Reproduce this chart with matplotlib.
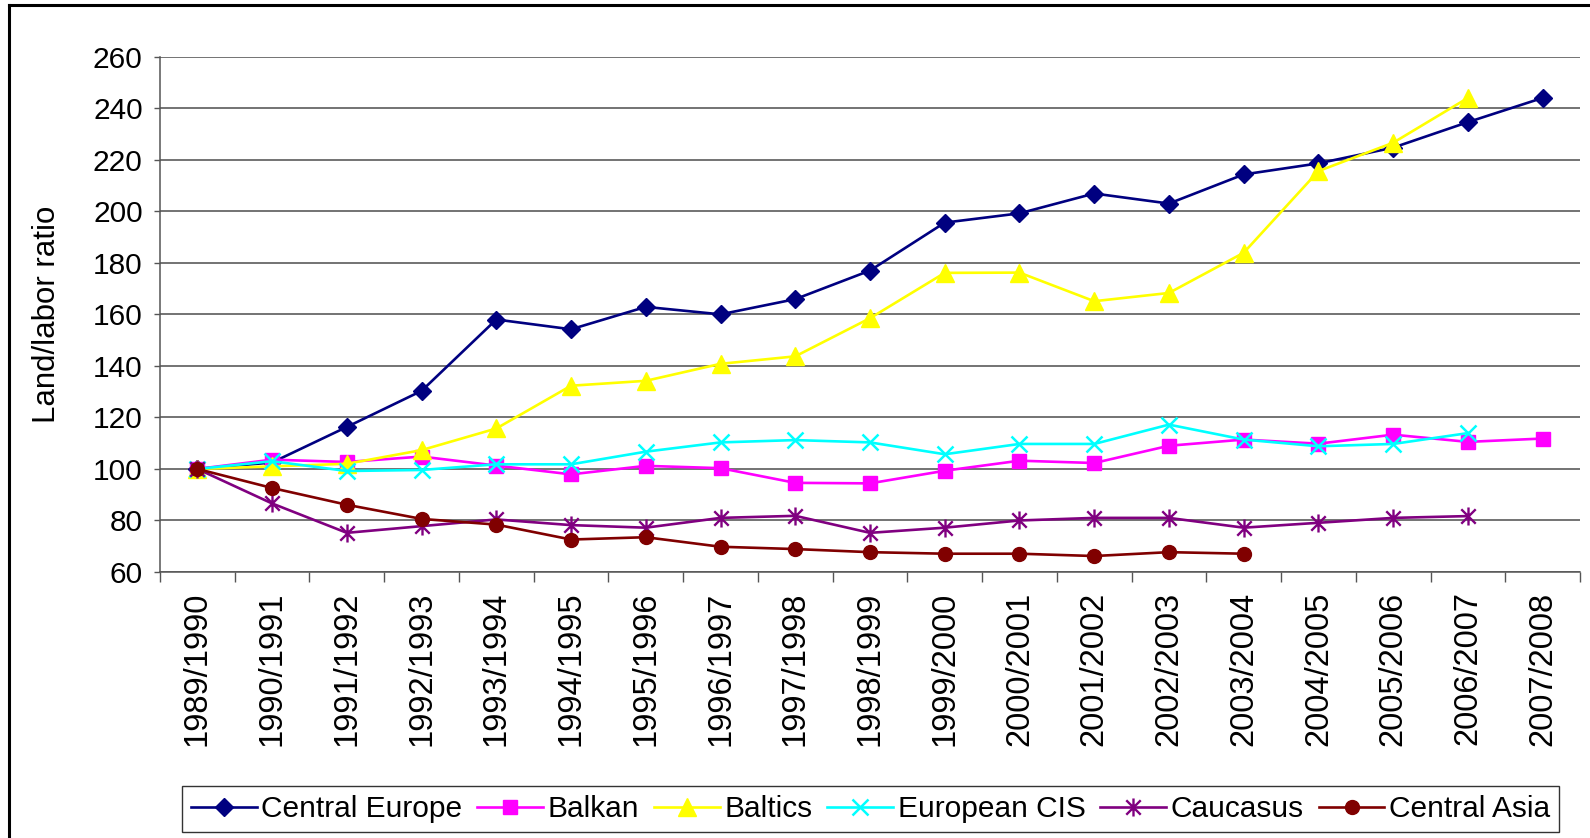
import numpy as np
import matplotlib
matplotlib.use("Agg")
import matplotlib.pyplot as plt
from matplotlib.path import Path
from matplotlib.lines import Line2D

plt.rcParams['font.family'] = ['Liberation Sans', 'DejaVu Sans']

seasons = ["1989/1990", "1990/1991", "1991/1992", "1992/1993", "1993/1994",
           "1994/1995", "1995/1996", "1996/1997", "1997/1998", "1998/1999",
           "1999/2000", "2000/2001", "2001/2002", "2002/2003", "2003/2004",
           "2004/2005", "2005/2006", "2006/2007", "2007/2008"]

nan = np.nan
central_europe = [100, 102.5, 116.3, 130.3, 158.0, 154.2, 162.9, 160.0, 165.9, 177.0,
                  195.6, 199.2, 206.9, 203.0, 214.3, 218.6, 224.7, 234.6, 244.0]
balkan = [100, 103.6, 102.7, 104.8, 101.3, 97.9, 101.2, 100.3, 94.6, 94.4,
          99.3, 103.2, 102.3, 109.0, 111.4, 109.8, 113.3, 110.5, 111.8]
baltics = [100, 101.0, 102.0, 107.3, 115.7, 132.3, 134.2, 140.8, 143.7, 158.5,
           176.1, 176.2, 165.1, 168.3, 183.9, 215.6, 226.6, 244.0, nan]
european_cis = [100, 103.0, 99.2, 99.6, 101.8, 101.8, 106.7, 110.3, 111.2, 110.3,
                105.7, 109.7, 109.7, 117.2, 111.4, 108.8, 109.7, 113.9, nan]
caucasus = [100, 86.6, 75.2, 77.8, 80.4, 78.2, 77.2, 81.0, 81.8, 75.2,
            77.2, 80.0, 81.0, 81.0, 77.2, 79.1, 81.0, 81.7, nan]
central_asia = [100, 92.6, 86.1, 80.6, 78.4, 72.6, 73.5, 69.8, 68.9, 67.7,
                67.1, 67.1, 66.2, 67.7, 67.1, nan, nan, nan, nan]

y_ticks = [60, 80, 100, 120, 140, 160, 180, 200, 220, 240, 260]

# asterisk marker: an X crossed by a vertical stroke
M, L = Path.MOVETO, Path.LINETO
star = Path([(-1, -1), (1, 1), (-1, 1), (1, -1), (0, -1.25), (0, 1.25)],
            [M, L, M, L, M, L])

series = [
    ("Central Europe", central_europe, "#000080", "D", 9.5, {}),
    ("Balkan", balkan, "#FF00FF", "s", 9.5, {}),
    ("Baltics", baltics, "#FFFF00", "^", 13, {}),
    ("European CIS", european_cis, "#00FFFF", "x", 12, {"markeredgewidth": 1.8}),
    ("Caucasus", caucasus, "#800080", star, 13, {"markeredgewidth": 1.7}),
    ("Central Asia", central_asia, "#800000", "o", 10, {}),
]

W, H = 1590, 838
fig = plt.figure(figsize=(W / 100, H / 100), dpi=100)
ax = fig.add_axes([160 / W, 1 - 572 / H, (1580 - 160) / W, (572 - 56.7) / H])

x = np.arange(len(seasons))
handles = []
for name, vals, color, marker, ms, extra in series:
    h, = ax.plot(x, vals, color=color, lw=1.9, marker=marker, markersize=ms,
                 markerfacecolor=color, markeredgecolor=color, label=name,
                 clip_on=False, **extra)
    handles.append(h)

ax.set_xlim(-0.5, len(seasons) - 0.5)
ax.set_ylim(60, 260)
ax.set_yticks(y_ticks)
ax.set_yticklabels([str(v) for v in y_ticks])
ax.set_xticks(x)
ax.set_xticklabels(seasons, rotation=90, ha="center", va="top")
ax.set_xticks(np.arange(len(seasons) + 1) - 0.5, minor=True)

ax.tick_params(axis="x", which="major", length=0, pad=14, labelsize=23.5)
ax.tick_params(axis="x", which="minor", length=7, width=1, color="#555555")
ax.tick_params(axis="y", length=4.5, width=1, color="#555555", pad=8, labelsize=21.5)

ax.yaxis.grid(True, color="#4d4d4d", lw=1.1)
ax.set_axisbelow(True)
for side in ("top", "right"):
    ax.spines[side].set_visible(False)
for side in ("left", "bottom"):
    ax.spines[side].set_color("#555555")
    ax.spines[side].set_linewidth(1.1)

ax.set_ylabel("Land/labor ratio", fontsize=22.5)
ax.yaxis.set_label_coords(-(160 - 62) / (1580 - 160), 0.5)

leg = fig.legend(handles=handles, loc="lower left", ncol=6, mode="expand",
                 bbox_to_anchor=(182 / W, 1 - 832 / H, (1559 - 182) / W, 56 / H),
                 fontsize=21.5, frameon=True, fancybox=False, handlelength=2.2,
                 handletextpad=0.15, columnspacing=0.4, borderpad=0.3,
                 borderaxespad=0)
leg.get_frame().set_edgecolor("black")
leg.get_frame().set_linewidth(1.0)

# chart frame (left and top edges)
fig.add_artist(Line2D([9 / W, 9 / W], [0, 1 - 5 / H], transform=fig.transFigure,
                      color="black", lw=2.2))
fig.add_artist(Line2D([9 / W, 1], [1 - 5 / H, 1 - 5 / H], transform=fig.transFigure,
                      color="black", lw=2.2))

fig.savefig("out.png", dpi=100)
